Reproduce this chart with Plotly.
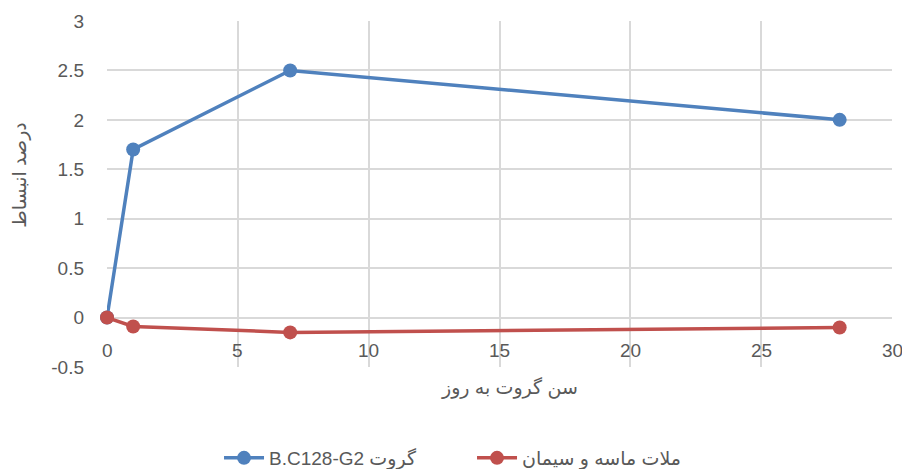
import plotly.graph_objects as go

days = [0, 1, 7, 28]
grout = [0, 1.7, 2.5, 2.0]
mortar = [0, -0.09, -0.15, -0.1]
x_ticks = [0, 5, 10, 15, 20, 25, 30]
y_ticks = [-0.5, 0, 0.5, 1, 1.5, 2, 2.5, 3]
y_tick_text = ["-0.5", "0", "0.5", "1", "1.5", "2", "2.5", "3"]
name_grout = "B.C128-G2 گروت"
name_mortar = "ملات ماسه و سیمان"
x_title = "سن گروت به روز"
y_title = "درصد انبساط"

FONT = "Liberation Sans, DejaVu Sans, sans-serif"
TXT = "#595959"
GRID = "#D9D9D9"
FS = 19

fig = go.Figure()
fig.add_trace(go.Scatter(x=days, y=grout, name=name_grout, mode="lines+markers",
                         line=dict(color="#4F81BD", width=3.5),
                         marker=dict(size=14, color="#4F81BD"), cliponaxis=False))
fig.add_trace(go.Scatter(x=days, y=mortar, name=name_mortar, mode="lines+markers",
                         line=dict(color="#C0504D", width=3.5),
                         marker=dict(size=14, color="#C0504D"), cliponaxis=False))

annotations = []
for t in x_ticks:
    annotations.append(dict(x=t, y=0, xref="x", yref="y", text=str(t), showarrow=False,
                            yshift=-33, yanchor="middle", xanchor="center",
                            font=dict(family=FONT, size=FS, color=TXT)))
annotations.append(dict(x=0.513, y=-0.058, xref="paper", yref="paper", text=x_title,
                        showarrow=False, xanchor="center", yanchor="middle",
                        font=dict(family=FONT, size=FS, color=TXT)))
annotations.append(dict(x=-0.111, y=0.555, xref="paper", yref="paper", text=y_title,
                        showarrow=False, textangle=-90, xanchor="center", yanchor="middle",
                        font=dict(family=FONT, size=FS, color=TXT)))

fig.update_layout(
    width=902, height=469,
    margin=dict(l=107, r=10, t=21, b=102, autoexpand=False),
    paper_bgcolor="white", plot_bgcolor="white",
    font=dict(family=FONT, size=FS, color=TXT),
    xaxis=dict(range=[0, 30], tickvals=x_ticks, showticklabels=False,
               showgrid=True, gridcolor=GRID, gridwidth=1.5, zeroline=False,
               showline=False, fixedrange=True, automargin=False),
    yaxis=dict(range=[-0.5, 3], tickvals=y_ticks, ticktext=y_tick_text,
               showgrid=True, gridcolor=GRID, gridwidth=1.5, zeroline=False,
               showline=False, ticklabelstandoff=22, automargin=False,
               tickfont=dict(family=FONT, size=FS, color=TXT)),
    legend=dict(orientation="h", xref="paper", yref="paper",
                x=0.465, y=-0.263, xanchor="center", yanchor="middle",
                font=dict(family=FONT, size=FS, color=TXT), itemwidth=40,
                entrywidth=198, entrywidthmode="pixels"),
    annotations=annotations,
    showlegend=True,
)

fig.write_html("out.html", config={"displayModeBar": False},
               post_script="document.body.style.margin='0';document.body.style.overflow='hidden';")
